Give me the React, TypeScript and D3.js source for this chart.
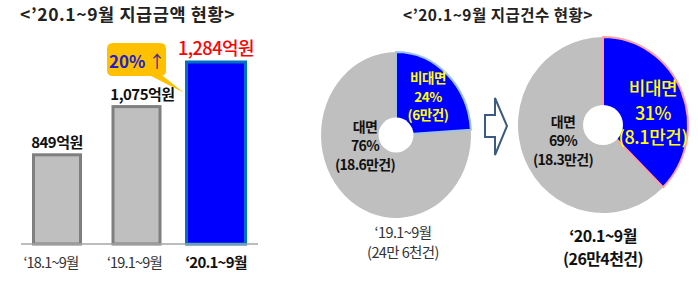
import React from 'react';
import * as d3 from 'd3';

// ---- Data ----
const barCategories = ['‘18.1~9월', '‘19.1~9월', '‘20.1~9월'];
const barValues = [849, 1075, 1284];
const barValueLabels = ['849억원', '1,075억원', '1,284억원'];
const growthLabel = '20%';

const pieCaptions = ['‘19.1~9월', '‘20.1~9월'];
const pieTotals = ['(24만 6천건)', '(26만4천건)'];
const sliceNames = ['비대면', '대면'];
// slice sizes as drawn in the picture (non-face-to-face, face-to-face)
const nonFaceShares = [24, 37.5];
const faceShares = [76, 62.5];
const nonFaceShareLabels = ['24%', '31%'];
const faceShareLabels = ['76%', '69%'];
const nonFaceCounts = ['(6만건)', '(8.1만건)'];
const faceCounts = ['(18.6만건)', '(18.3만건)'];

const FONT = "'Noto Sans CJK KR', 'Noto Sans', sans-serif";

export default function App() {
  const W = 698, H = 281;
  const baseY = 244;
  const x = d3.scalePoint<string>().domain(barCategories).range([57, 216]);
  const y = d3.scaleLinear().domain([431, 1284]).range([baseY, 62]);
  const barW = 47;
  const hiW = 59;

  // pies
  const pieCfg = [
    { cx: 396, cy: 135, rx: 75, ry: 83, hole: 17.5, border: '#9dc3e6' },
    { cx: 603, cy: 125, rx: 85, ry: 88, hole: 20, border: '#ff9f9f' },
  ];
  const R = 80;
  const pieGen = d3.pie<number>().sort(null).value(d => d);
  const arcGen = d3.arc<d3.PieArcDatum<number>>().innerRadius(0).outerRadius(R);

  const x3 = x(barCategories[2])!;
  const tipX = x3 - hiW / 2 - 3;
  const tipY = y(barValues[1]) - 14;

  return (
    <svg width={W} height={H} style={{ position: 'absolute', left: 0, top: 0, fontFamily: FONT }}>
      <rect width={W} height={H} fill="#fff" />
      {/* Left title */}
      <text x={20} y={21} fontSize={17.5} fontWeight={700} letterSpacing={0.6} fill="#222">{'<’20.1~9월 지급금액 현황>'}</text>
      {/* Bars */}
      {barValues.map((v, i) => {
        const hi = i === 2;
        const w = hi ? hiW : barW;
        const cx = x(barCategories[i])!;
        return (
          <g key={i}>
            <rect x={cx - w / 2} y={y(v)} width={w} height={baseY - y(v)}
              fill={hi ? '#0000ff' : '#bfbfbf'} stroke={hi ? '#0070c0' : '#7f7f7f'} strokeWidth={3} />
            <text x={cx + (i === 1 ? 6 : 0)} y={y(v) - 7} textAnchor="middle"
              fontSize={hi ? 18 : 15} fontWeight={hi ? 500 : 700} letterSpacing={-0.5}
              fill={hi ? '#ff0000' : '#111'}>{barValueLabels[i]}</text>
            <text x={cx - (i === 0 ? 6 : i === 1 ? 2 : 0)} y={268} textAnchor="middle" fontSize={hi ? 15 : 14.5}
              fontWeight={hi ? 700 : 400} letterSpacing={-0.8} fill={hi ? '#111' : '#333'}>{barCategories[i]}</text>
          </g>
        );
      })}
      <line x1={21} x2={258} y1={baseY} y2={baseY} stroke="#a6a6a6" strokeWidth={1.5} />
      {/* Growth callout */}
      <path d={`M113,43 H160 Q166,43 166,49 V70 Q166,76 160,76 H163 L${tipX},${tipY} L151,76 H113 Q107,76 107,70 V49 Q107,43 113,43 Z`}
        fill="#ffc000" />
      <text x={109} y={68} fontSize={17} fontWeight={700}>
        <tspan fill="#2222cc">{growthLabel}</tspan>
        <tspan fill="#3c2a8a" dx={3} fontWeight={400}>↑</tspan>
      </text>

      {/* Right title */}
      <text x={498} y={21} textAnchor="middle" fontSize={15.5} fontWeight={700} letterSpacing={0.5} fill="#222">{'<’20.1~9월 지급건수 현황>'}</text>

      {/* Pies */}
      {pieCfg.map((p, i) => {
        const arcs = pieGen([nonFaceShares[i], faceShares[i]]);
        const big = i === 1;
        return (
          <g key={i}>
            <g transform={`translate(${p.cx},${p.cy}) scale(${p.rx / R},${p.ry / R})`}>
              <path d={arcGen(arcs[1])!} fill="#bfbfbf" />
              <path d={arcGen(arcs[0])!} fill="#0000ff" stroke={p.border} strokeWidth={2}
                vectorEffect="non-scaling-stroke" strokeLinejoin="round" />
            </g>
            <circle cx={p.cx} cy={p.cy} r={p.hole} fill="#fff" />
            {/* non-face label */}
            <text textAnchor="middle" fill="#ffff00" fontWeight={big ? 500 : 700}
              fontSize={big ? 18 : 13.5} letterSpacing={-0.4}>
              {[sliceNames[0], nonFaceShareLabels[i], nonFaceCounts[i]].map((t, k) => (
                <tspan key={k} x={p.cx + (big ? 50 : 32)} y={p.cy + (big ? -30 : -52) + k * (big ? 24.5 : 18.5)}>{t}</tspan>
              ))}
            </text>
            {/* face label */}
            <text textAnchor="middle" fill="#111" fontWeight={700} fontSize={14} letterSpacing={-0.7}>
              {[sliceNames[1], faceShareLabels[i], faceCounts[i]].map((t, k) => (
                <tspan key={k} x={p.cx + (big ? -40 : -31)} y={p.cy + (big ? 2 : -3) + k * 19}>{t}</tspan>
              ))}
            </text>
            <text textAnchor="middle" fill={big ? '#111' : '#333'} fontWeight={big ? 700 : 400}
              fontSize={big ? 16 : 14.5} letterSpacing={-0.6}>
              <tspan x={big ? 603 : 403} y={big ? 242 : 238}>{pieCaptions[i]}</tspan>
              <tspan x={big ? 603 : 403} y={big ? 265 : 258}>{pieTotals[i]}</tspan>
            </text>
          </g>
        );
      })}

      {/* Arrow */}
      <path d="M485,115 H495 V98 L507,126 L495,155 V137 H485 Z" fill="#fff" stroke="#3b5b82" strokeWidth={2} strokeLinejoin="miter" />
    </svg>
  );
}
